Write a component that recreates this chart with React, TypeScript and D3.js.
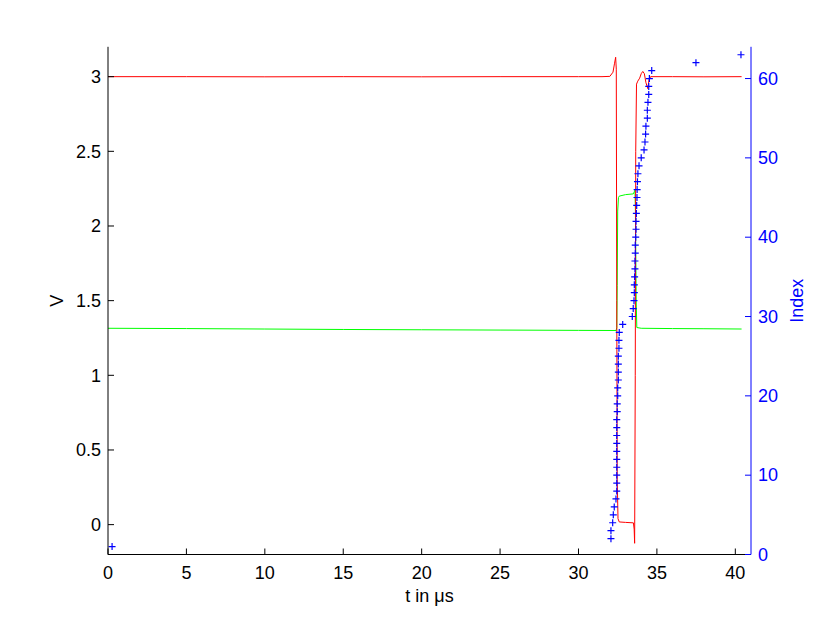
import React from "react";
import * as d3 from "d3";

const W = 830;
const H = 623;
const M = { left: 108, right: 751, top: 46.8, bottom: 554.5 };

const xTicks = [0, 5, 10, 15, 20, 25, 30, 35, 40];
const vTicks = [0, 0.5, 1, 1.5, 2, 2.5, 3];
const idxTicks = [0, 10, 20, 30, 40, 50, 60];

// red trace (t in µs, V)
const redT = [0, 5, 10, 15, 20, 25, 30, 31.5, 32.0, 32.2, 32.3, 32.37, 32.41, 32.44, 32.47, 32.52, 32.6, 33.0, 33.5, 33.55, 33.58, 33.62, 33.65, 33.7, 33.78, 33.9, 34.0, 34.1, 34.2, 34.3, 34.42, 34.5, 34.6, 36, 38, 40.4];
const redV = [3.0, 3.0, 2.999, 3.0, 2.999, 3.0, 3.0, 3.0, 3.002, 3.03, 3.09, 3.13, 3.05, 1.5, 0.3, 0.04, 0.018, 0.015, 0.012, -0.03, -0.125, 1.0, 2.5, 2.95, 2.97, 2.99, 3.02, 3.035, 3.02, 2.96, 2.92, 2.98, 3.0, 3.0, 2.999, 3.0];

// green trace
const greenT = [0, 5, 10, 15, 20, 25, 30, 32.4, 32.44, 32.47, 32.5, 32.55, 32.6, 33.0, 33.5, 33.56, 33.6, 33.63, 33.68, 33.72, 34.0, 36, 38, 40.4];
const greenV = [1.315, 1.313, 1.31, 1.307, 1.305, 1.303, 1.301, 1.3, 1.32, 1.6, 2.1, 2.19, 2.2, 2.21, 2.215, 2.23, 2.24, 2.1, 1.5, 1.32, 1.315, 1.313, 1.312, 1.31];

// blue markers: sample index vs time
const markT = [0.26, 32.07, 32.07, 32.18, 32.22, 32.28, 32.39, 32.44, 32.44, 32.44, 32.44, 32.44, 32.44, 32.44, 32.44, 32.44, 32.44, 32.47, 32.47, 32.5, 32.5, 32.54, 32.54, 32.54, 32.54, 32.58, 32.58, 32.6, 32.82, 33.43, 33.49, 33.54, 33.56, 33.56, 33.58, 33.6, 33.6, 33.62, 33.62, 33.65, 33.67, 33.67, 33.69, 33.71, 33.73, 33.74, 33.76, 33.79, 33.86, 34.0, 34.18, 34.24, 34.28, 34.3, 34.39, 34.39, 34.43, 34.48, 34.48, 34.52, 34.67, 37.49, 40.36];
const markIdx = markT.map((_, i) => i + 1);

const FONT = "'Liberation Sans', Arial, Helvetica, sans-serif";

export default function App() {
  const x = d3.scaleLinear().domain([0, 41]).range([M.left, M.right]);
  const yL = d3.scaleLinear().domain([-0.2, 3.2]).range([M.bottom, M.top]);
  const yR = d3.scaleLinear().domain([0, 64]).range([M.bottom, M.top]);

  const line = d3
    .line<[number, number]>()
    .x((d) => x(d[0]))
    .y((d) => yL(d[1]));

  const redPath = line(redT.map((t, i) => [t, redV[i]]) as [number, number][]) || "";
  const greenPath = line(greenT.map((t, i) => [t, greenV[i]]) as [number, number][]) || "";

  const tick = 6;
  const fs = 18;

  return (
    <div style={{ position: "absolute", left: 0, top: 0, width: W, height: H, background: "#fff" }}>
      <svg width={W} height={H} style={{ display: "block" }} fontFamily={FONT}>
        <rect width={W} height={H} fill="#fff" />
        <defs>
          <clipPath id="plotclip">
            <rect x={M.left} y={M.top - 10} width={M.right - M.left + 10} height={M.bottom - M.top + 10} />
          </clipPath>
        </defs>
        {/* data */}
        <g clipPath="url(#plotclip)">
          <path d={greenPath} fill="none" stroke="#00ff00" strokeWidth={1} />
          <path d={redPath} fill="none" stroke="#ff0000" strokeWidth={1} />
          {markT.map((t, i) => {
            const cx = x(t);
            const cy = yR(markIdx[i]);
            const s = 3.5;
            return (
              <path
                key={i}
                d={`M${cx - s},${cy}H${cx + s}M${cx},${cy - s}V${cy + s}`}
                stroke="#0000ff"
                strokeWidth={1.2}
                fill="none"
              />
            );
          })}
        </g>

        {/* bottom x axis */}
        <line x1={M.left} x2={M.right} y1={M.bottom} y2={M.bottom} stroke="#000" strokeWidth={1} />
        {xTicks.map((t) => (
          <g key={"x" + t}>
            <line x1={x(t)} x2={x(t)} y1={M.bottom} y2={M.bottom - tick} stroke="#000" />
            <text x={x(t)} y={M.bottom + 24} textAnchor="middle" fontSize={fs} fill="#000">
              {t}
            </text>
          </g>
        ))}
        <text x={(M.left + M.right) / 2} y={602} textAnchor="middle" fontSize={fs} fill="#000">
          t in μs
        </text>

        {/* left y axis */}
        <line x1={M.left} x2={M.left} y1={M.top} y2={M.bottom} stroke="#000" strokeWidth={1} />
        {vTicks.map((t) => (
          <g key={"l" + t}>
            <line x1={M.left} x2={M.left + tick} y1={yL(t)} y2={yL(t)} stroke="#000" />
            <text x={M.left - 7} y={yL(t)} dy="0.35em" textAnchor="end" fontSize={fs} fill="#000">
              {t}
            </text>
          </g>
        ))}
        <text
          transform={`translate(63,${(M.top + M.bottom) / 2}) rotate(-90)`}
          textAnchor="middle"
          fontSize={fs}
          fill="#000"
        >
          V
        </text>

        {/* right y axis */}
        <line x1={M.right} x2={M.right} y1={M.top} y2={M.bottom} stroke="#0000ff" strokeWidth={1} />
        {idxTicks.map((t) => (
          <g key={"r" + t}>
            <line x1={M.right} x2={M.right - tick} y1={yR(t)} y2={yR(t)} stroke="#0000ff" />
            <text x={M.right + 7} y={yR(t)} dy="0.35em" textAnchor="start" fontSize={fs} fill="#0000ff">
              {t}
            </text>
          </g>
        ))}
        <text
          transform={`translate(803,${(M.top + M.bottom) / 2}) rotate(-90)`}
          textAnchor="middle"
          fontSize={fs}
          fill="#0000ff"
        >
          Index
        </text>
      </svg>
    </div>
  );
}
